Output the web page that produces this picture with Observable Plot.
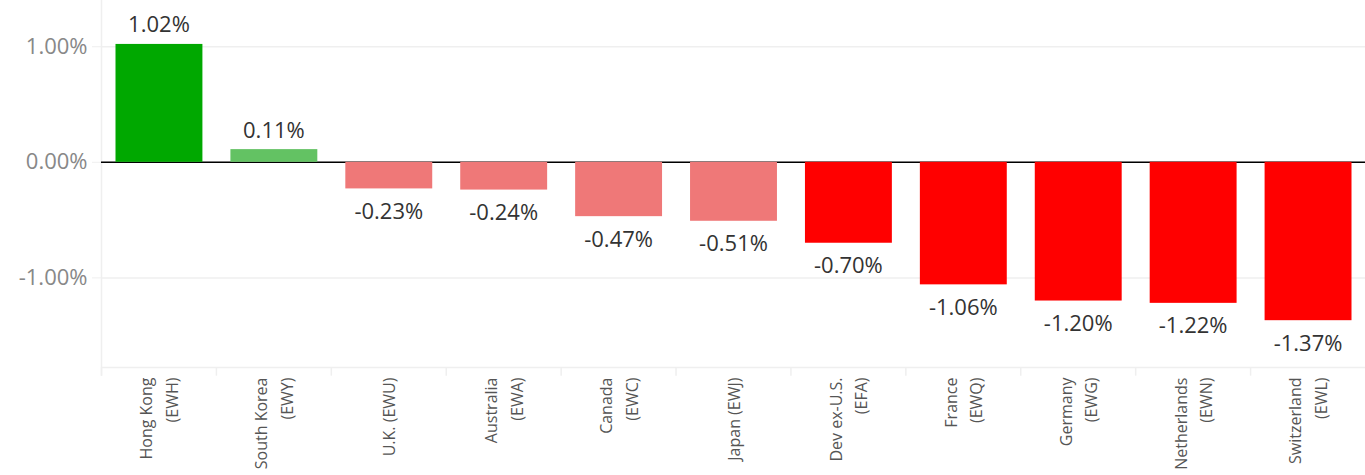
<!DOCTYPE html>
<html>
<head>
<meta charset="utf-8">
<script src="https://cdn.jsdelivr.net/npm/d3@7"></script>
<script src="https://cdn.jsdelivr.net/npm/@observablehq/plot@0.6"></script>
<style>
  html, body { margin: 0; padding: 0; background: #fff; }
  #chart svg { display: block; }
</style>
</head>
<body>
<div id="chart"></div>
<script>
const names = ["Hong Kong\n(EWH)", "South Korea\n(EWY)", "U.K. (EWU)", "Australia\n(EWA)", "Canada\n(EWC)", "Japan (EWJ)", "Dev ex-U.S.\n(EFA)", "France\n(EWQ)", "Germany\n(EWG)", "Netherlands\n(EWN)", "Switzerland\n(EWL)"];
const values = [1.02, 0.11, -0.23, -0.24, -0.47, -0.51, -0.70, -1.06, -1.20, -1.22, -1.37];
const colors = ["#00a800", "#63c263", "#ef7878", "#ef7878", "#ef7878", "#ef7878", "#ff0000", "#ff0000", "#ff0000", "#ff0000", "#ff0000"];
const yTicks = [-1, 0, 1];

const data = names.map((n, i) => ({name: n, value: values[i], color: colors[i]}));
const yMin = -1.775, yMax = 1.40;
const fmt = v => v.toFixed(2) + "%";
const W = 1365, ML = 101;
const band = (W - ML) / names.length;
const grid = "#efefef";

const chart = Plot.plot({
  width: W,
  height: 475,
  marginLeft: ML,
  marginRight: 0,
  marginTop: 0,
  marginBottom: 108,
  style: {fontFamily: "'Open Sans', sans-serif", background: "#fff"},
  x: {domain: names, padding: 0, round: false, axis: null},
  y: {domain: [yMin, yMax], axis: null},
  marks: [
    Plot.ruleY(yTicks, {stroke: grid, strokeWidth: 1.5}),
    Plot.ruleY([yMin], {stroke: grid, strokeWidth: 1.5}),
    Plot.ruleX(names, {x: d => d, y1: yMin - 0.075, y2: yMin, dx: -band / 2, stroke: grid, strokeWidth: 1.5}),
    Plot.ruleX([names[0]], {x: d => d, y1: yMin - 0.075, y2: yMax, dx: -band / 2, stroke: grid, strokeWidth: 1.5}),
    Plot.axisY({ticks: yTicks, tickSize: 9, text: null, label: null, stroke: grid, color: grid}),
    Plot.axisY({ticks: yTicks, tickSize: 0, tickPadding: 14, tickFormat: fmt, label: null, fontSize: 22, color: "#888"}),
    Plot.ruleY([0], {stroke: "#000", strokeWidth: 1.5}),
    Plot.barY(data, {x: "name", y: "value", fill: "color", insetLeft: 14.5, insetRight: 13.5}),
    Plot.text(data.filter(d => d.value >= 0), {
      x: "name", y: "value", text: d => fmt(d.value),
      dy: -19, fontSize: 22, fill: "#333", lineAnchor: "middle"
    }),
    Plot.text(data.filter(d => d.value < 0), {
      x: "name", y: "value", text: d => fmt(d.value),
      dy: 23, fontSize: 22, fill: "#333", lineAnchor: "middle"
    }),
    Plot.text(data, {
      x: "name", y: yMin, text: "name", rotate: -90,
      textAnchor: "end", lineAnchor: "middle", dy: 10, dx: -2,
      lineHeight: 1.6, fontSize: 16, fill: "#555"
    })
  ]
});

document.getElementById("chart").append(chart);
</script>
</body>
</html>
